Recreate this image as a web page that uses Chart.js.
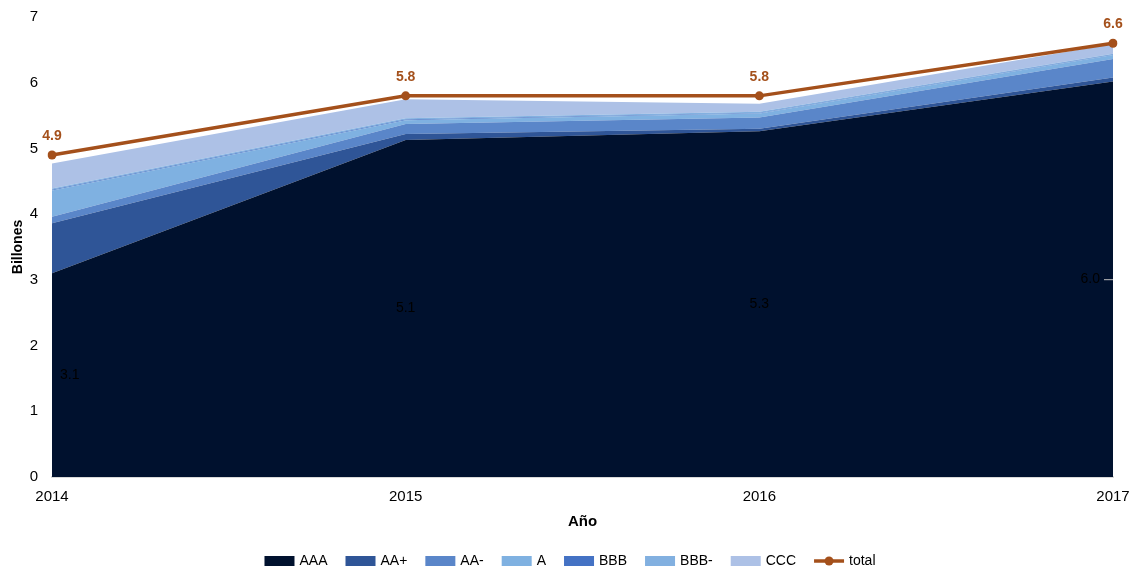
<!DOCTYPE html>
<html>
<head>
<meta charset="utf-8">
<script src="https://cdn.jsdelivr.net/npm/chart.js@4.4.1/dist/chart.umd.min.js"></script>
<style>
  body { margin: 0; background: #fff; }
  #wrap { width: 1135px; height: 569px; }
</style>
</head>
<body>
<div id="wrap"><canvas id="grafico"></canvas></div>
<script>
// Datos (billones)
const anios = ['2014', '2015', '2016', '2017'];
const serieAAA = [3.10, 5.13, 5.26, 6.02];
const serieAAplus = [0.76, 0.09, 0.04, 0.06];
const serieAAminus = [0.10, 0.15, 0.17, 0.28];
const serieA = [0.40, 0.06, 0.06, 0.06];
const serieBBB = [0.01, 0.01, 0.01, 0.01];
const serieBBBminus = [0.02, 0.02, 0.02, 0.01];
const serieCCC = [0.38, 0.29, 0.12, 0.15];
const serieTotal = [4.9, 5.8, 5.8, 6.6];
const ticksY = [0, 1, 2, 3, 4, 5, 6, 7];

const colorTotal = '#a4501b';
const fuente = "'Liberation Sans', Arial, sans-serif";

function area(label, data, color, fill) {
    return {
        label: label,
        data: data,
        backgroundColor: color,
        borderColor: color,
        borderWidth: 0,
        pointRadius: 0,
        fill: fill,
        stack: 'calif',
        tension: 0
    };
}

// Etiquetas de AAA y del total
const etiquetas = {
    id: 'etiquetas',
    afterDatasetsDraw(chart) {
        const ctx = chart.ctx;
        const x = chart.scales.x;
        const y = chart.scales.y;
        ctx.save();
        ctx.font = '14px ' + fuente;
        ctx.fillStyle = '#000000';
        ctx.textBaseline = 'middle';
        serieAAA.forEach((v, i) => {
            const px = x.getPixelForValue(i);
            const py = y.getPixelForValue(v / 2);
            const txt = v.toFixed(1);
            if (i === 0) {
                ctx.textAlign = 'left';
                ctx.fillText(txt, px + 8, py);
            } else if (i === serieAAA.length - 1) {
                ctx.textAlign = 'right';
                ctx.fillText(txt, px - 13, py);
                ctx.strokeStyle = '#bfbfbf';
                ctx.lineWidth = 1;
                ctx.beginPath();
                ctx.moveTo(px - 9, py + 0.5);
                ctx.lineTo(px, py + 0.5);
                ctx.stroke();
            } else {
                ctx.textAlign = 'center';
                ctx.fillText(txt, px, py);
            }
        });
        ctx.font = 'bold 14px ' + fuente;
        ctx.fillStyle = colorTotal;
        ctx.textAlign = 'center';
        serieTotal.forEach((v, i) => {
            const px = x.getPixelForValue(i);
            const py = y.getPixelForValue(v);
            ctx.fillText(v.toFixed(1), px, py - 19);
        });
        ctx.restore();
    }
};

// Leyenda propia: cajas para las áreas, línea con punto para el total
const leyenda = {
    id: 'leyenda',
    afterDraw(chart) {
        const ctx = chart.ctx;
        const sets = chart.data.datasets;
        const caja = 30, sep = 5, hueco = 18, cy = 561;
        ctx.save();
        ctx.font = '14px ' + fuente;
        ctx.textBaseline = 'middle';
        ctx.textAlign = 'left';
        const anchos = sets.map(d => caja + sep + ctx.measureText(d.label).width);
        const total = anchos.reduce((a, b) => a + b, 0) + hueco * (sets.length - 1);
        let cx = 570 - total / 2;
        sets.forEach((d, i) => {
            if (d.stack === 'total') {
                ctx.strokeStyle = d.borderColor;
                ctx.lineWidth = 3.5;
                ctx.beginPath();
                ctx.moveTo(cx, cy);
                ctx.lineTo(cx + caja, cy);
                ctx.stroke();
                ctx.fillStyle = d.borderColor;
                ctx.beginPath();
                ctx.arc(cx + caja / 2, cy, 4.5, 0, Math.PI * 2);
                ctx.fill();
            } else {
                ctx.fillStyle = d.backgroundColor;
                ctx.fillRect(cx, cy - 5, caja, 10);
            }
            ctx.fillStyle = '#000';
            ctx.fillText(d.label, cx + caja + sep, cy);
            cx += anchos[i] + hueco;
        });
        ctx.restore();
    }
};

new Chart(document.getElementById('grafico'), {
    type: 'line',
    data: {
        labels: anios,
        datasets: [
            area('AAA', serieAAA, '#00112e', 'origin'),
            area('AA+', serieAAplus, '#2f5597', '-1'),
            area('AA-', serieAAminus, '#5a86c9', '-1'),
            area('A', serieA, '#7fb1e1', '-1'),
            area('BBB', serieBBB, '#4472c4', '-1'),
            area('BBB-', serieBBBminus, '#82b0e0', '-1'),
            area('CCC', serieCCC, '#adc1e6', '-1'),
            {
                label: 'total',
                data: serieTotal,
                borderColor: colorTotal,
                backgroundColor: colorTotal,
                borderWidth: 3.5,
                pointRadius: 4.5,
                pointBackgroundColor: colorTotal,
                pointBorderWidth: 0,
                fill: false,
                stack: 'total',
                order: -1
            }
        ]
    },
    options: {
        responsive: true,
        maintainAspectRatio: false,
        animation: false,
        layout: { padding: { top: 17, right: 22, left: 0, bottom: 34 } },
        plugins: {
            tooltip: { enabled: false },
            legend: { display: false }
        },
        scales: {
            x: {
                type: 'category',
                offset: false,
                grid: { display: false },
                border: { display: true, color: '#d9d9d9', width: 2 },
                ticks: { font: { family: fuente, size: 15 }, color: '#000', padding: 3, maxRotation: 0 },
                title: { display: true, text: 'Año', font: { family: fuente, size: 15, weight: 'bold' }, color: '#000', padding: { top: 4 } },
                afterFit: (s) => { s.height = 58; }
            },
            y: {
                stacked: true,
                min: ticksY[0],
                max: ticksY[ticksY.length - 1],
                grid: { display: false },
                border: { display: false },
                afterBuildTicks: (s) => { s.ticks = ticksY.map(v => ({ value: v })); },
                ticks: { font: { family: fuente, size: 15 }, color: '#000', padding: 6 },
                title: { display: true, text: 'Billones', font: { family: fuente, size: 14, weight: 'bold' }, color: '#000', padding: { top: 10, bottom: 0 } },
                afterFit: (s) => { s.width = 52; }
            }
        }
    },
    plugins: [etiquetas, leyenda]
});
</script>
</body>
</html>
